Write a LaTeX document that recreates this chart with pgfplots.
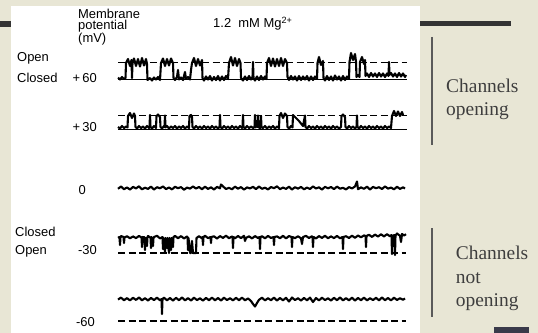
\documentclass[border=0pt]{standalone}
\usepackage{pgfplots}
\pgfplotsset{compat=1.18}
\usepackage{fontspec}
\setmainfont{Liberation Sans}
\newfontfamily\serifface{Liberation Serif}
\definecolor{bgbeige}{RGB}{232,230,213}
\definecolor{barcol}{RGB}{52,52,52}
\definecolor{vlinecol}{RGB}{90,90,90}
\definecolor{rtext}{RGB}{62,62,62}
\definecolor{navybox}{RGB}{58,58,74}
\begin{document}
\begin{tikzpicture}
\begin{axis}[
  width=538bp, height=333bp, scale only axis,
  xmin=0, xmax=538, ymin=0, ymax=333, y dir=reverse,
  hide axis, clip=false,
  trace/.style={black, line width=2.1bp, line join=round},
  open/.style={black, line width=1.2bp, dash pattern=on 7bp off 3.5bp},
  closed/.style={black, line width=1bp},
]
% background and decorations
\fill[bgbeige] (axis cs:0,0) rectangle (axis cs:538,333);
\fill[white] (axis cs:11,6) rectangle (axis cs:420,333);
\fill[barcol] (axis cs:0,21) rectangle (axis cs:11,27);
\fill[barcol] (axis cs:420,21) rectangle (axis cs:511,26.5);
\draw[vlinecol, line width=1.5bp] (axis cs:432,37) -- (axis cs:432,145);
\draw[vlinecol, line width=1.5bp] (axis cs:432,228) -- (axis cs:432,317);
\fill[navybox] (axis cs:494,327) rectangle (axis cs:529,333);

% reference levels
\addplot[open] coordinates {(118,62.5)(407,62.5)};
\addplot[closed] coordinates {(118,79)(407,79)};
\addplot[open] coordinates {(118,115.5)(407,115.5)};
\addplot[closed] coordinates {(118,129)(407,129)};
\addplot[open] coordinates {(118,253)(406,253)};
\addplot[open] coordinates {(118,321)(406,321)};

% +60 mV trace
\addplot[trace] coordinates {
(118,77.5)(120,79.5)(122,77)(124,79)(125.5,78)
(126,63)(128,59)(130,66)(131.5,60)(132,78)(132.5,63)
(134,58.5)(136,66)(138,59)(140,66.5)(142,58)(144,65.5)(146,59)(147,64)
(147.5,80)(150,78)(152,80.5)(154,77.5)(156,79.5)(158,77)(160,80)
(161,63)(163,58.5)(165,66)(167,59)(169,65.5)(171,58.5)(173,63)
(173.5,78)(175,80)(177,77)(178,70)(179,79.5)(181,77.5)(183,80)(185,72)(186,79)(188,77)(190,79.5)
(191,70)(192,63)(194,58)(196,66)(198,59)(200,65.5)(202,60)
(202.5,78)(204,80.5)(206,76.5)(208,79.5)(210,76)(212,80.5)(214,77)(216,80)(218,76)(220,80.5)(222,76.5)(224,80)(226,76)(228,79)
(229,63)(231,57)(233,65.5)(235,58)(237,66)(239,59)(240.5,63)
(241,78)(243,80.5)(245,76.5)(247,80)(249,76)(251,79.5)(252.5,77)(253,62)(253.5,78)(255,80.5)(257,76.5)(259,80)(261,76)(263,79.5)(265,76.5)(266.5,79)
(267,63)(269,58)(271,66)(273,58.5)(275,66.5)(277,59)(279,66)(281,58)(283,66)(285,59)(287,63)
(287.5,77)(289,80)(291,76)(293,79.5)(295,76.5)(297,80.5)(299,76)(301,80)(303,76.5)(305,79.5)(307,76)(309,80.5)(311,76.5)(313,80)(315,76.5)(317,79)
(317.5,63)(319,57)(321,65)(323,61)
(323.5,78)(325,80.5)(327,76)(329,80)(331,76.5)(333,80.5)(335,75.5)(337,79.5)(339,76.5)(341,80.5)(343,76)(345,80)(347,76.5)(349,79)
(349.5,62)(351,53)(353,60)(355,54)(356,62)
(356.5,77)(358,75)(359.5,77)
(360,62)(362,57)(364,64)(365,60)
(365.5,76)(367,73.5)(369,77)(371,73)(373,76.5)(375,73.5)(377,77)(379,73)(381,76.5)(383,73.5)(385,77)(387,73.5)(388.5,76)(389,62)(389.5,75)(391,73)(393,76.5)(395,73.5)(397,77)(399,73)(401,76.5)(403,73.5)(405,77)(406,75)
};

% +30 mV trace
\addplot[trace] coordinates {
(118,127)(120,128.5)(122,126)(124,128)(126,126.5)(127.5,127.5)
(128,116)(130,113)(132,118)(134,113.5)(135,116)
(135.5,127)(137,128.5)(139,126)(141,128)(143,126.5)(145,128.5)(147,126)(149,128)(149.5,127)(150,115)(150.5,127)(152,128.5)(154,126)(156,128)
(156.5,116)(158,114.5)(160,117)
(160.5,127)(162,128.5)(164,126)(164.5,127)(165,115.5)(165.5,127.5)(167,126)(169,128.5)(171,126.5)(173,128)(175,126)(177,128.5)(179,126.5)(181,128)(183,126)(185,128.5)(187,126.5)(189,128)
(189.5,116)(191,115)(192,117)
(192.5,127)(194,128.5)(196,126)(198,128)(200,126.5)(202,128.5)(204,126)(206,128)(208,126.5)(210,128.5)(212,126)(214,128)(216,126.5)(218,128.5)(219.5,127)(220,115)(220.5,127)(222,128.5)(224,126)(226,128)(228,126.5)(230,128.5)(232,126)(234,128)(236,126.5)(238,128.5)(240,126)(242,128)(242.5,127)(243,115)(243.5,127)(245,128.5)(247,126)(249,128)(251,126.5)(253,128)(254.5,127)(255,115)(255.5,127.5)(257,126)(257.5,127)(258,115.5)(258.5,127)(260,128.5)(260.5,127)(261,116)(261.5,127)(263,128)(265,126)(267,128.5)(269,126.5)(271,128)(273,126)(275,128.5)(277,126.5)(279,128)
(279.5,116)(281,113)(283,118)(285,113.5)(287,116)
(287.5,127)(289,128.5)(291,126)(292.5,127.5)
(293,115)(295,117)(297,119)(299,121)(301,123.5)(303,126)
(305,115.5)(305.5,127)(307,128.5)(309,126)(311,128)(313,126.5)(315,128.5)(317,126)(319,128)(321,126.5)(323,128.5)(325,126)(327,128)(329,126.5)(331,128.5)(333,126)(335,128)(337,126.5)(339,128.5)(341,127)
(341.5,116)(343,114.5)(345,117)
(345.5,127)(347,128.5)(349,126)(351,128)(353,126.5)(355,128.5)(356.5,127)(357,115.5)(357.5,127)(359,128.5)(361,126)(363,128)(365,126.5)(367,128.5)(369,126)(371,128)(373,126.5)(375,128.5)(377,126)(379,128)(381,126.5)(383,128.5)(385,126)(387,128)(389,126.5)(391,128)
(392,116)(394,111)(396,116)(398,111.5)(400,116)(402,112)(403,115)
};

% 0 mV trace
\addplot[trace] coordinates {
(118,188.8)(121,186.5)(124,189.2)(127,187.4)(130,189.6)(133,186.9)(136,188.4)(139,186.3)(142,189.3)(145,187.7)
(148,188.9)(151,186.6)(154,189.5)(157,187.2)(160,188.3)(163,186.4)(166,189.1)(169,187.5)(172,189.4)(175,186.8)
(178,188.2)(181,187.1)(184,189.7)(187,187.6)(190,188.6)(193,186.5)(196,188.5)(199,187.0)(202,189.2)(205,186.7)
(208,188.9)(211,187.3)(214,189.5)(217,186.9)(220,188.3)(221,184.5)(223,186.4)(226,189.0)(229,187.8)(232,189.3)(235,186.6)
(238,188.7)(241,187.1)(244,189.6)(247,187.4)(250,188.4)(253,186.8)(256,189.1)(259,186.5)(262,188.8)(265,187.7)
(268,189.4)(271,187.0)(274,188.2)(277,186.3)(280,189.2)(283,187.5)(286,188.9)(289,186.7)(292,189.5)(295,187.2)
(298,188.6)(301,186.9)(304,189.3)(307,187.6)(310,189.0)(313,186.4)(316,188.5)(319,187.3)(322,189.6)(325,186.8)
(328,188.3)(331,187.0)(334,189.1)(337,186.6)(340,188.7)(343,187.8)(346,189.4)(349,187.1)(352,188.4)(355,186.5)
(357,181.5)(358,189.2)(361,187.4)(364,188.8)(367,186.7)(370,189.5)(373,186.9)(376,188.2)(379,187.2)(382,189.0)
(385,186.4)(388,188.6)(391,187.6)(394,189.3)(397,186.8)(400,188.9)(403,187.3)(405,188.5)
};

% -30 mV trace
\addplot[trace] coordinates {
(118,237.8)(119.5,237)(120,245)(120.5,237)(121,236)(123.5,237)(124,243)(124.5,237.5)(127,236.2)(130,238.3)(133,236.4)(136,238.1)(139,235.9)
(141.5,237.5)(142,247)(142.5,237)(144.5,237.3)(145,250)(145.5,237.8)(147,246)(147.5,237)(148,236)(150.5,237.5)(151,248)(151.5,237)(153,246)(153.5,238)(154,237)
(157,235.8)(160,238.4)(162.5,237)(163,249)(163.5,238)(165,252)(165.5,238)(167,248)(167.5,238)(169,253)(169.5,238)(171,250)(171.5,238)(173,247)(173.5,237)
(175,235.9)(178,238.2)(181,236.1)(184,238.4)(187,236.5)(187.5,237)(188,250)(188.5,238)(190,253)(191,253)(192,241)(193,253)(195,253)(196,253)(196.5,238)
(199,236.2)(202,238.3)(202.5,237)(203,245)(203.5,237)(205,235.8)(208,238.1)(210.5,237)(211,243)(211.5,237)(214,236.3)(217,238.5)(220,236.1)(223,237.9)(226,235.7)(229,238.2)
(232,236.4)(232.5,237)(233,248)(233.5,237)(235,238.3)(238,236)(241,238.1)(244,235.8)(245,241)(246,237.9)(249,236.3)(252,238.4)(255,236.1)(258,238)
(259.5,237)(260,249)(260.5,237)(262,236.2)(265,238.3)(268,235.9)(271,238)(273.5,237)(274,245)(274.5,237)(277,236.4)(280,238.2)(283,235.8)(286,238.4)(289,236)
(291.5,237)(292,247)(292.5,237)(295,238.1)(298,236.3)(301,238.3)(302,244)(303,237)(306,235.9)(309,238)(312,236.2)(312.5,237)(313,247)(313.5,237)
(316,238.4)(319,236.1)(322,237.9)(325,235.8)(328,238.2)(331,236.4)(334,238.1)(337,235.9)(340,238.3)(342.5,237)(343,249)(343.5,237)
(346,236.2)(349,238)(352,235.7)(355,237.8)(358,235.5)(361,237.3)(364,235.4)(365.5,236)(366,247)(366.5,236)(369,234.8)(372,236.9)(375,234.6)(378,236.5)
(381,234.3)(384,236.4)(387,234.2)(390,236.3)(391.5,235)(392,254)(392.5,236)(394.5,235)(395,255)(395.5,235.5)(397,233.5)(400,235.8)(401,242)(402,234)(404,235.5)(406,234.2)
};

% -60 mV trace
\addplot[trace] coordinates {
(118,299.5)(121,297.6)(124,300.2)(127,298.1)(130,300.4)(133,297.8)(136,299.9)(139,297.5)(142,300.3)(145,298.2)
(148,300.5)(151,297.9)(154,300.1)(157,297.6)(160,300.4)(161.5,299)(162,314)(162.5,299)(164,297.7)(167,300.3)(170,298)
(173,300.6)(176,297.8)(179,300.2)(182,297.5)(185,300.4)(188,298.1)(191,300.5)(194,297.7)(197,300.1)(200,298.3)
(203,300.6)(206,297.9)(209,300.2)(212,297.6)(215,300.3)(218,298)(221,300.5)(224,297.7)(227,300.1)(230,298.2)
(233,300.4)(236,297.8)(239,300.2)(242,297.6)(245,300.3)(248,298.4)(251,301)(253,304)(255,306.5)(257,303)(259,299.8)
(262,297.7)(265,300.4)(268,298.2)(271,300.2)(274,297.6)(277,300.5)(280,298)(283,300.3)(286,297.8)(289,301.5)
(292,297.5)(295,300.1)(298,298.2)(301,300.6)(304,297.9)(307,300.3)(310,297.6)(313,302)(316,298)(319,300.4)
(322,297.7)(325,300.1)(328,298.3)(331,300.5)(334,297.8)(337,300.2)(340,297.5)(343,300.4)(346,298.1)(349,300.3)
(352,297.7)(355,300.5)(358,298)(361,300.2)(364,297.6)(367,300.4)(370,298.2)(373,300.1)(376,297.8)(379,300.3)
(382,297.5)(385,300.2)(388,298)(391,300.4)(394,297.7)(397,300)(400,298.2)(403,299.8)(405,298.5)
};

% labels (sans)
\begin{scope}[every node/.style={inner sep=0pt, font=\fontsize{13}{12}\selectfont}]
\node[anchor=base west] at (axis cs:78,18.3) {Membrane};
\node[anchor=base west] at (axis cs:78,30) {potential};
\node[anchor=base west] at (axis cs:78,42) {(mV)};
\node[anchor=base west] at (axis cs:213,28) {1.2\ \ mM Mg\textsuperscript{2+}};
\node[anchor=base west] at (axis cs:17,61.5) {Open};
\node[anchor=base west] at (axis cs:17,82.5) {Closed};
\node[anchor=base east] at (axis cs:97,82.5) {+\,60};
\node[anchor=base east] at (axis cs:97,131) {+\,30};
\node[anchor=base west] at (axis cs:78.3,194.5) {0};
\node[anchor=base west] at (axis cs:15,236.5) {Closed};
\node[anchor=base west] at (axis cs:15,254.3) {Open};
\node[anchor=base east] at (axis cs:97,254.3) {-30};
\node[anchor=base east] at (axis cs:95,326.5) {-60};
\end{scope}
% side notes (serif)
\begin{scope}[every node/.style={inner sep=0pt, text=rtext, font=\serifface\fontsize{19.5}{23}\selectfont}]
\node[anchor=base west] at (axis cs:446,92.5) {Channels};
\node[anchor=base west] at (axis cs:446,115) {opening};
\node[anchor=base west] at (axis cs:455.7,259.3) {Channels};
\node[anchor=base west] at (axis cs:455.7,283.3) {not};
\node[anchor=base west] at (axis cs:455.7,306.7) {opening};
\end{scope}
\end{axis}
\end{tikzpicture}
\end{document}
